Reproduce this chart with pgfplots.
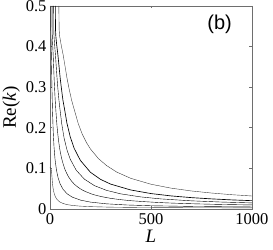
\documentclass[border=0pt]{standalone}
\usepackage{pgfplots}
\pgfplotsset{compat=1.18}
\usepackage{fontspec}
\setmainfont{Liberation Serif}
\newfontfamily\sansb{Liberation Sans}
\definecolor{crv}{RGB}{60,60,60}
\definecolor{axc}{RGB}{110,110,110}
\begin{document}
\begin{tikzpicture}
\begin{axis}[
  width=202pt, height=203pt, scale only axis,
  xmin=0, xmax=1000, ymin=0, ymax=0.5,
  xtick={0,500,1000}, ytick={0,0.1,0.2,0.3,0.4,0.5},
  tick align=inside, major tick length=2.5pt,
  axis line style={axc, line width=0.7pt},
  tick style={axc, line width=0.6pt},
  /pgf/number format/assume math mode=true,
  /pgf/number format/1000 sep={},
  tick label style={font=\fontsize{16.5}{16.5}\selectfont},
  xticklabel style={yshift=-1pt},
  xlabel={\textit{L}}, ylabel={Re(\textit{k})},
  label style={font=\fontsize{19}{19}\selectfont},
  xlabel style={yshift=1pt},
  ylabel style={yshift=-1pt},
  cycle list={{crv, line width=0.65pt, no marks, smooth, tension=0.4}},
]
% E
\addplot coordinates {(44,0.5)(44.5,0.47)(45.5,0.44)(48,0.425)(55,0.405)(65,0.38)(75,0.35)(85,0.32)(95,0.295)(107,0.268)(120,0.245)(140,0.210)(160,0.184)(180,0.164)(200,0.148)(240,0.124)(280,0.107)(330,0.091)(400,0.0755)(500,0.061)(600,0.0513)(700,0.0444)(800,0.0393)(900,0.0352)(1000,0.032)};
% D
\addplot coordinates {(26.5,0.5)(26.8,0.47)(27.4,0.44)(29,0.425)(33,0.405)(39,0.38)(45,0.35)(51,0.32)(57,0.295)(64,0.268)(72,0.246)(84,0.211)(100,0.178)(120,0.149)(150,0.12)(200,0.0905)(250,0.073)(300,0.0613)(400,0.0468)(500,0.038)(600,0.0322)(700,0.028)(800,0.0249)(900,0.0224)(1000,0.0205)};
% C
\addplot coordinates {(18.2,0.5)(18.4,0.47)(18.8,0.44)(19.9,0.425)(22.8,0.405)(26.9,0.38)(31,0.35)(35.2,0.32)(39.3,0.295)(44.3,0.268)(50,0.243)(58,0.21)(70,0.174)(85,0.144)(100,0.123)(130,0.0953)(170,0.0736)(220,0.0575)(280,0.0459)(350,0.0373)(450,0.0297)(550,0.0248)(700,0.0201)(850,0.0171)(1000,0.015)};
% B
\addplot coordinates {(10.6,0.5)(10.7,0.47)(11,0.44)(11.6,0.425)(13.3,0.405)(15.7,0.38)(18.1,0.35)(20.5,0.32)(22.9,0.295)(25.8,0.268)(30,0.236)(35,0.203)(42,0.17)(50,0.143)(60,0.12)(75,0.0963)(95,0.0767)(120,0.0613)(160,0.0468)(220,0.0348)(300,0.0263)(400,0.0205)(550,0.0157)(700,0.013)(850,0.0112)(1000,0.010)};
% B'
\addplot coordinates {(4.5,0.5)(4.6,0.47)(4.7,0.44)(5,0.425)(5.7,0.405)(6.7,0.38)(7.8,0.35)(8.8,0.32)(9.8,0.295)(11,0.268)(13,0.233)(16,0.1895)(20,0.152)(25,0.122)(32,0.0958)(40,0.077)(50,0.062)(65,0.0482)(85,0.0373)(110,0.0293)(150,0.022)(200,0.017)(280,0.0127)(380,0.0099)(500,0.008)(700,0.0063)(1000,0.005)};
% A
\addplot coordinates {(0,0.103)(3,0.101)(6,0.097)(8,0.09)(10,0.078)(12,0.064)(15,0.052)(18,0.0437)(22,0.036)(27,0.0298)(33,0.0247)(40,0.0208)(50,0.017)(65,0.0135)(85,0.0108)(110,0.0088)(150,0.007)(200,0.0058)(300,0.0045)(450,0.0037)(650,0.0032)(1000,0.00275)};
\node[font=\sansb\fontsize{20}{20}\selectfont, text=black] at (axis cs:840,0.455) {(b)};
\end{axis}
\pgfresetboundingbox
\path[use as bounding box] ([shift={(-50pt,-41pt)}]current axis.south west) rectangle ([shift={(21pt,6pt)}]current axis.north east);
\end{tikzpicture}
\end{document}
